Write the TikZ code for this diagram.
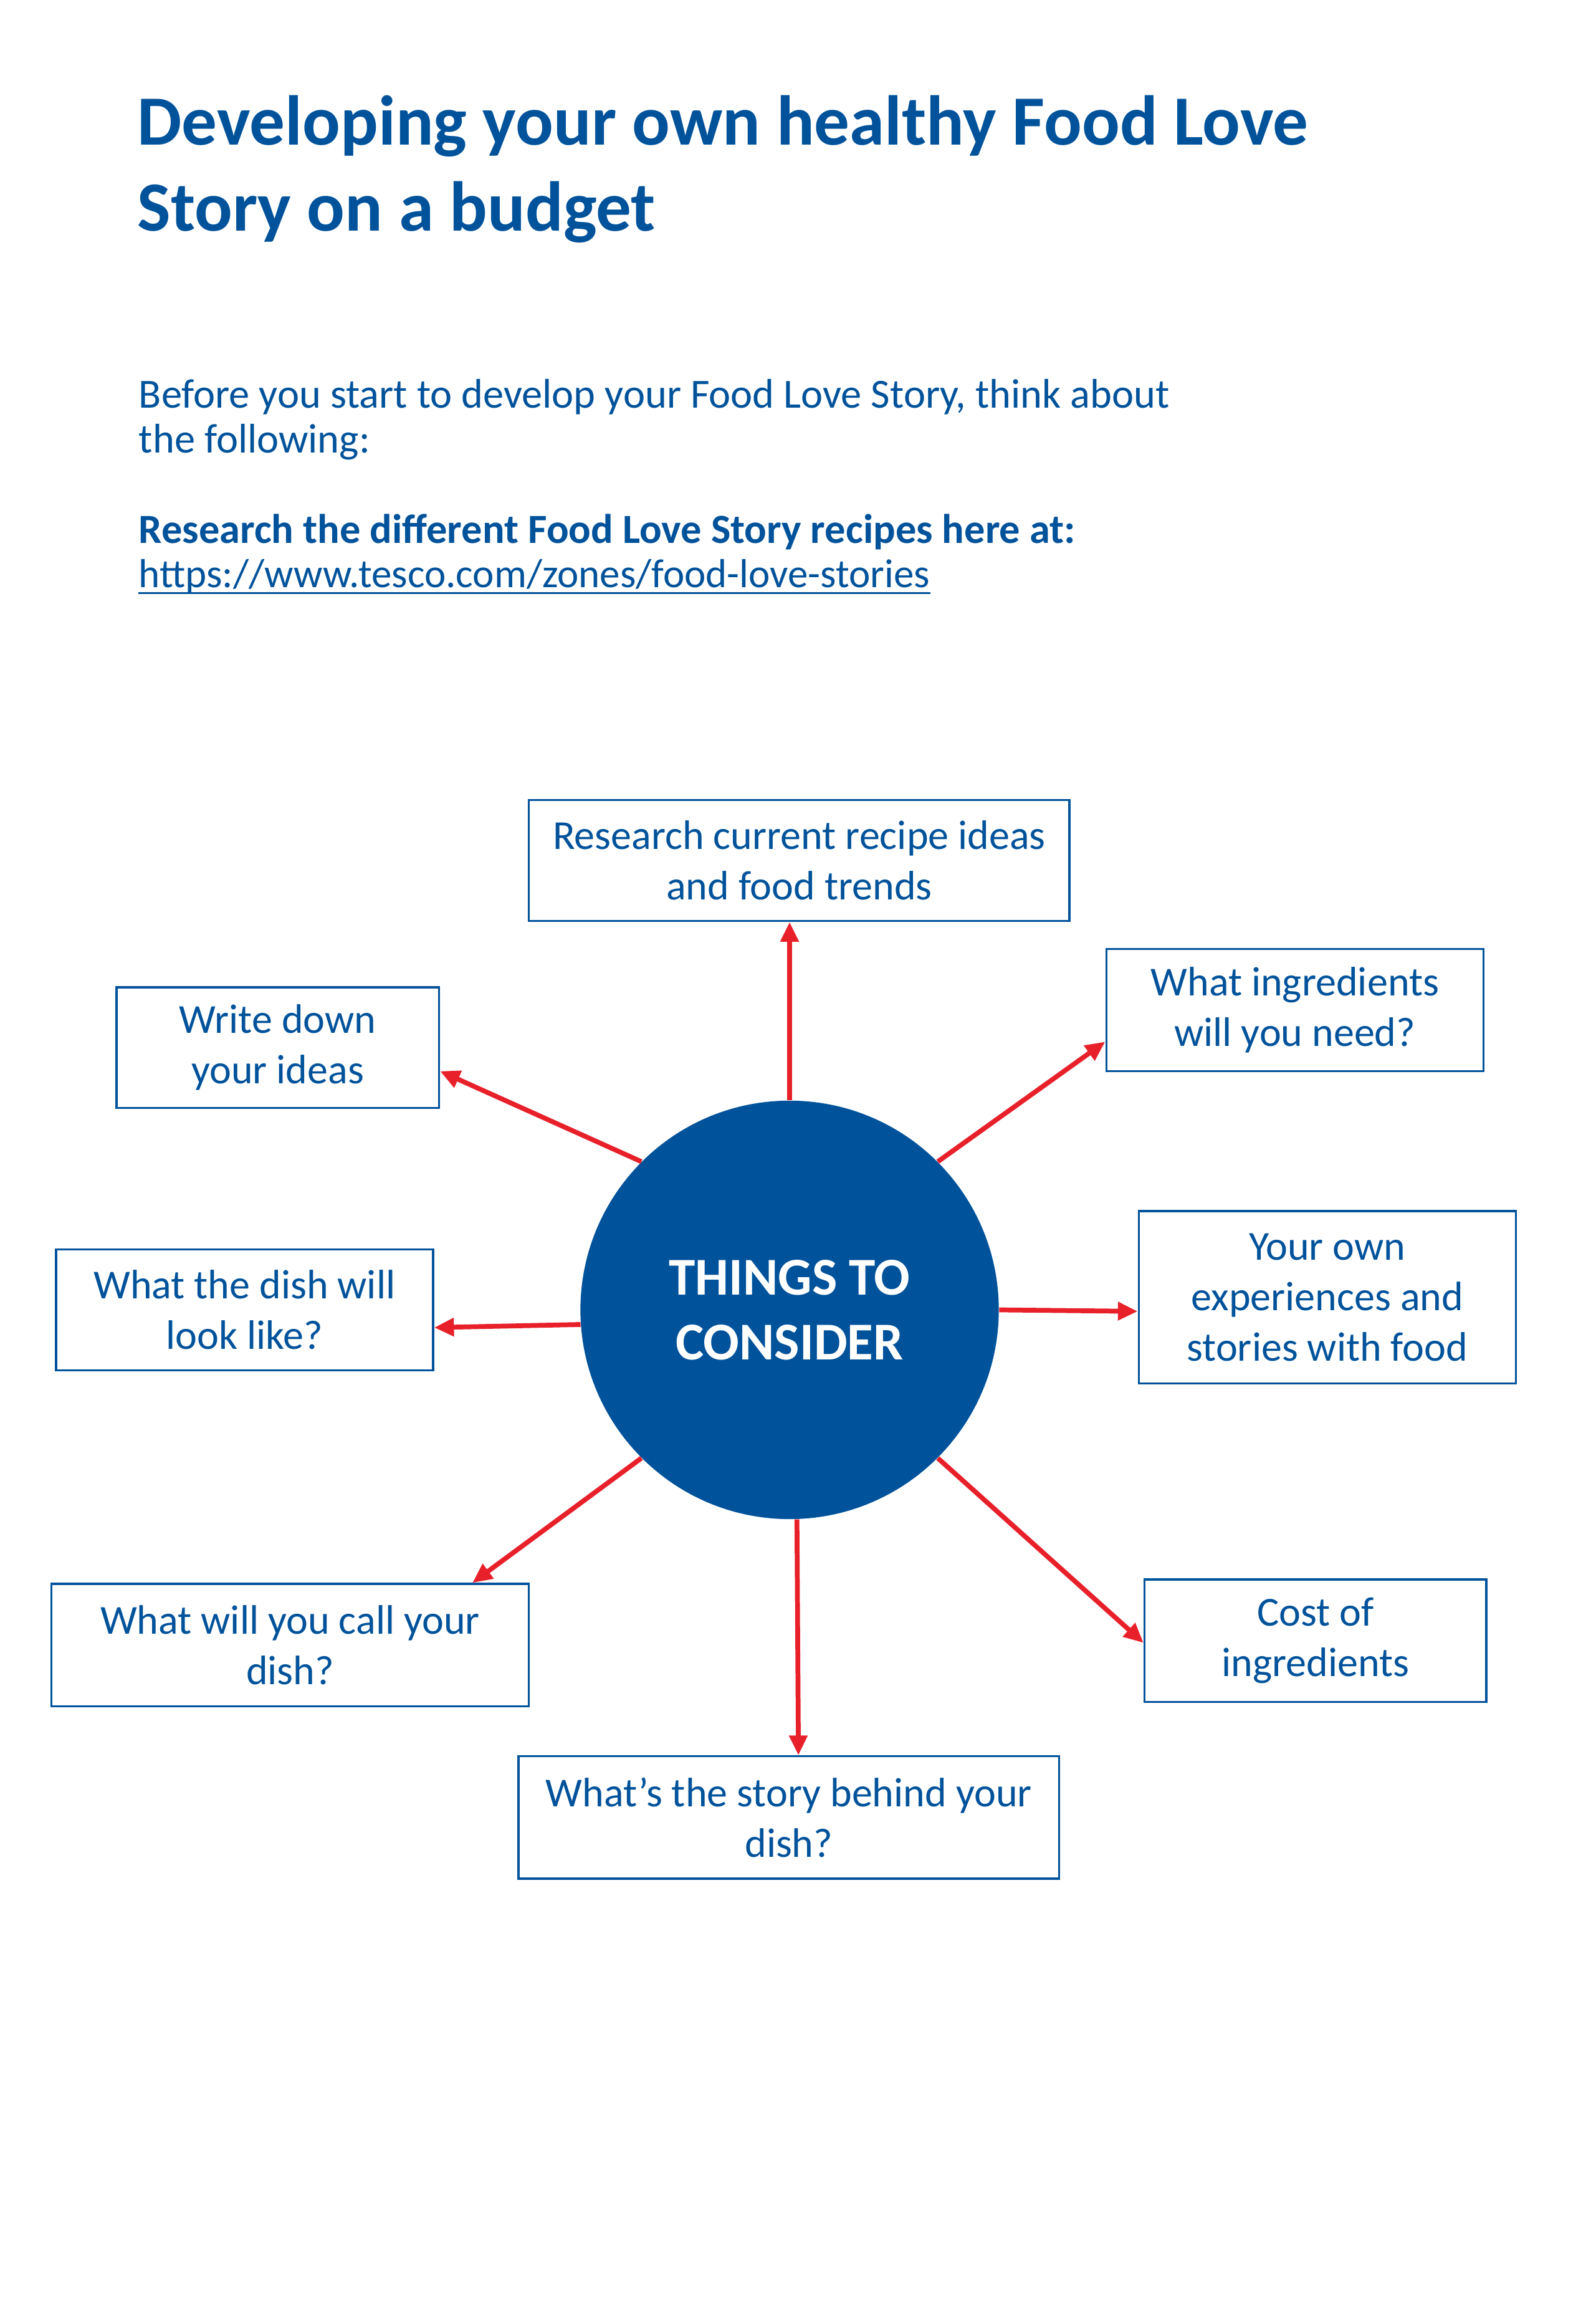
\documentclass[tikz,border=0pt]{standalone}
\usepackage{fontspec}
\setmainfont{Carlito}
\usetikzlibrary{arrows.meta,calc}
\definecolor{fblue}{HTML}{00529B}
\definecolor{fred}{HTML}{E8202A}
\newdimen\pxu \pxu=0.023638cm
\begin{document}
\begin{tikzpicture}[x=0.023638cm,y=-0.023638cm,
  box/.style={draw=fblue, line width=1pt, text=fblue, font=\fontsize{18.8}{23}\selectfont,
    align=center, inner sep=0pt, minimum height=82\pxu},
  arr/.style={draw=fred, fill=fred, line width=2.2pt, -{Triangle[length=9pt,width=8pt]}},
  txt/.style={anchor=base west, inner sep=0pt, text=fblue},
  ttl/.style={txt, font=\bfseries\fontsize{32.2}{39}\selectfont},
  par/.style={txt, font=\fontsize{18.9}{20}\selectfont}]
\fill[white] (0,0) rectangle (1083,1564.4);
\useasboundingbox (0,0) rectangle (1083,1564.4);
% title and text
\node[ttl] (t1) at (93,98.5) {Developing your own healthy Food Love};
\node[ttl] (t2) at (93,156.7) {Story on a budget};
\node[par] (p1) at (94,277) {Before you start to develop your Food Love Story, think about};
\node[par] (p2) at (94,307.5) {the following:};
\node[par, font=\bfseries\fontsize{18.9}{20}\selectfont] (b1) at (94,368.5) {Research the different Food Love Story recipes here at:};
\node[par, font=\fontsize{18.5}{20}\selectfont] (u1) at (94,398.5) {https://www.tesco.com/zones/food-love-stories};
\draw[fblue, line width=0.8pt] ([yshift=-4\pxu]u1.base west) -- ([yshift=-4\pxu]u1.base east);
% centre
\node[circle, fill=fblue, minimum size=284\pxu, inner sep=0pt, text=white, align=center,
  font=\bfseries\fontsize{24.3}{29.6}\selectfont] (c) at (536,889) {THINGS TO\\CONSIDER};
% boxes
\node[box, minimum width=367\pxu] (r1) at (542.5,584) {Research current recipe ideas\\and food trends};
\node[box, minimum width=256\pxu, minimum height=83\pxu] (r2) at (879,685.5) {What ingredients\\will you need?};
\node[box, minimum width=219\pxu] (r3) at (188.5,711) {Write down\\your ideas};
\node[box, minimum width=256\pxu, minimum height=117\pxu] (r4) at (901,880.5) {Your own\\experiences and\\stories with food};
\node[box, minimum width=256\pxu] (r5) at (166,889) {What the dish will\\look like?};
\node[box, minimum width=324\pxu, minimum height=83\pxu] (r6) at (197,1116.5) {What will you call your\\dish?};
\node[box, minimum width=232\pxu, minimum height=83\pxu] (r7) at (893,1113.5) {Cost of\\ingredients};
\node[box, minimum width=367\pxu, minimum height=83\pxu] (r8) at (535.5,1233.5) {What’s the story behind your\\dish?};
% arrows
\draw[arr] (c.90) -- (c.90 |- r1.south);
\draw[arr] (c.45) -- ([yshift=-21.5\pxu]r2.west);
\draw[arr] (c.135) -- ([yshift=-16\pxu]r3.east);
\draw[arr] (c.0) -- ([yshift=-9.5\pxu]r4.west);
\draw[arr] (c.184) -- ([yshift=-12\pxu]r5.east);
\draw[arr] (c.225) -- ($(r6.north west)!0.88!(r6.north east)$);
\draw[arr] (c.272) -- ([xshift=6.5\pxu]r8.north);
\draw[arr] (c.315) -- ([yshift=-1.5\pxu]r7.west);
\end{tikzpicture}
\end{document}
